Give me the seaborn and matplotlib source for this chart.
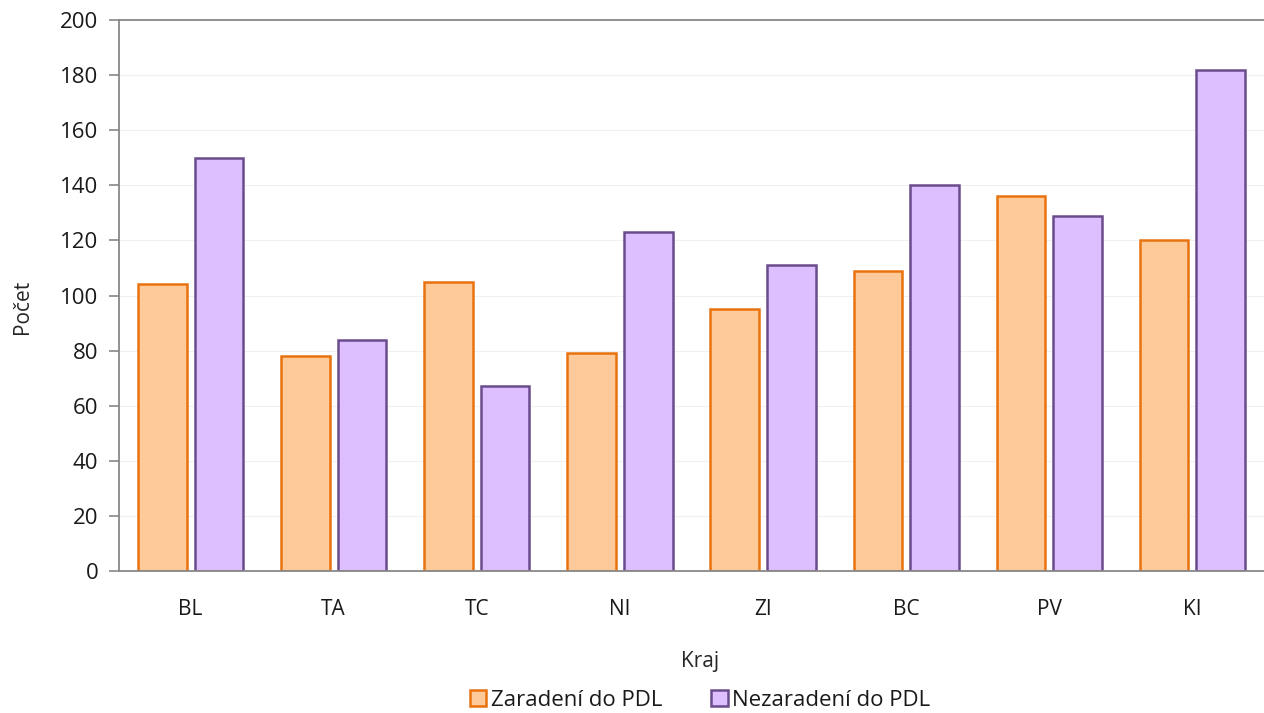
import matplotlib
matplotlib.use("Agg")
import matplotlib.pyplot as plt
import numpy as np
import pandas as pd
import seaborn as sns

# data
regions = ["BL", "TA", "TC", "NI", "ZI", "BC", "PV", "KI"]
zaradeni = [104, 78, 105, 79, 95, 109, 136, 120]
nezaradeni = [150, 84, 67, 123, 111, 140, 129, 182]
series_names = ["Zaradení do PDL", "Nezaradení do PDL"]
y_ticks = [0, 20, 40, 60, 80, 100, 120, 140, 160, 180, 200]

fill_colors = ["#FFCA99", "#DDBFFF"]
edge_colors = ["#E8730E", "#6A4C8C"]

sns.set_style("white")
plt.rcParams["font.family"] = ["Open Sans", "DejaVu Sans"]
plt.rcParams["text.color"] = "#1a1a1a"
plt.rcParams["xtick.color"] = "#1a1a1a"
plt.rcParams["ytick.color"] = "#1a1a1a"

df = pd.DataFrame(
    {
        "Kraj": regions * 2,
        "Počet": zaradeni + nezaradeni,
        "Skupina": [series_names[0]] * len(regions) + [series_names[1]] * len(regions),
    }
)

W, H = 1264, 713
fig = plt.figure(figsize=(W / 100, H / 100), dpi=100)
ax = fig.add_axes([119 / W, 1 - 571 / H, (W - 119) / W, (571 - 20) / H])

sns.barplot(
    data=df,
    x="Kraj",
    y="Počet",
    hue="Skupina",
    order=regions,
    hue_order=series_names,
    palette=fill_colors,
    width=0.79,
    gap=0.14,
    saturation=1,
    ax=ax,
)

# edge colours per series
for container, ec in zip(ax.containers, edge_colors):
    for bar in container:
        bar.set_edgecolor(ec)
        bar.set_linewidth(1.8)

ax.set_ylim(0, 200)
ax.set_xlim(-0.5, 7.45)
ax.set_yticks(y_ticks)
ax.set_yticklabels([str(v) for v in y_ticks], fontsize=16)
ax.yaxis.grid(True, color="#F0F0F0", linewidth=0.8)
ax.set_axisbelow(True)

# category separator ticks
ax.set_xticks(np.arange(len(regions)))
ax.set_xticklabels(regions, fontsize=15)
ax.set_xticks(np.arange(-0.5, len(regions), 1), minor=True)
ax.tick_params(axis="x", which="major", length=0, pad=20)
ax.tick_params(axis="x", which="minor", length=7, width=1.2, color="#888888", direction="out")
ax.tick_params(axis="y", length=7, width=1.2, color="#888888", direction="out", pad=8, left=True)

for side in ["left", "bottom", "top"]:
    ax.spines[side].set_color("#888888")
    ax.spines[side].set_linewidth(1.3)
ax.spines["right"].set_visible(False)

ax.set_xlabel("Kraj", fontsize=15)
ax.xaxis.set_label_coords((700 - 119) / (W - 119), -0.145)
ax.set_ylabel("Počet", fontsize=15)
ax.yaxis.set_label_coords((33 - 119) / (W - 119), 0.48)

handles, labels = ax.get_legend_handles_labels()
for h, ec in zip(handles, edge_colors):
    h.set_edgecolor(ec)
    h.set_linewidth(1.8)
ax.legend_.remove()
fig.legend(
    handles,
    labels,
    loc="center",
    bbox_to_anchor=(700 / W, 1 - 700 / H),
    ncol=2,
    frameon=False,
    fontsize=16,
    handlelength=0.75,
    handleheight=0.75,
    handletextpad=0.2,
    columnspacing=2.2,
)

fig.savefig("out.png", dpi=100)
